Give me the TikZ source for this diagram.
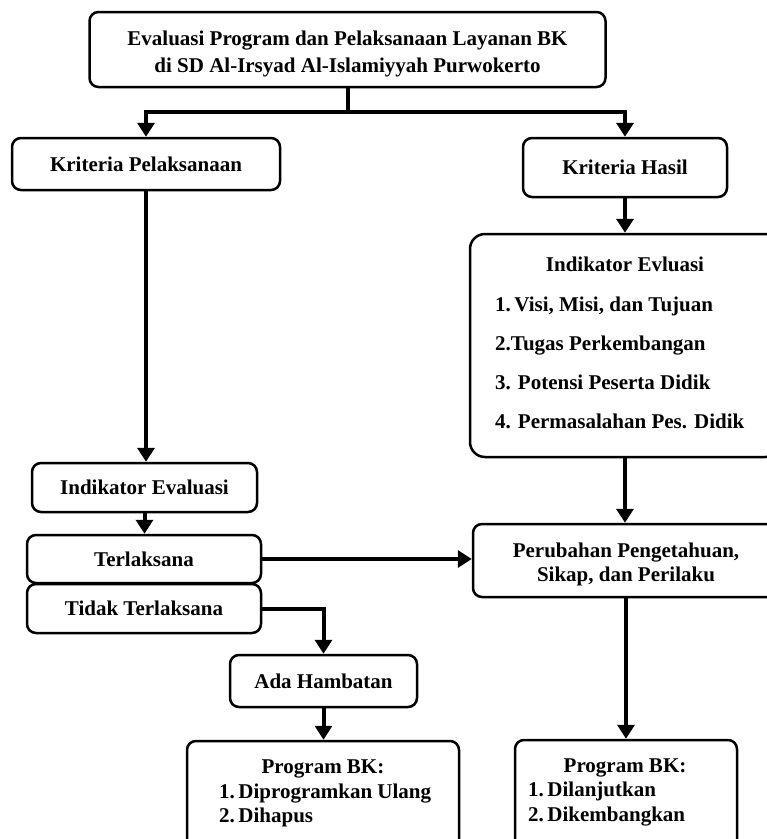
\documentclass[tikz,border=0pt]{standalone}
\usepackage{fontspec}
\setmainfont{Liberation Serif}
\usetikzlibrary{arrows.meta}
\begin{document}
\begin{tikzpicture}[x=1pt,y=-1pt,
  box/.style={draw, line width=2.5pt, rounded corners=9pt, inner sep=0pt, align=center,
    font=\fontsize{21}{25}\selectfont\bfseries},
  conn/.style={line width=4pt, -{Triangle[width=17pt,length=14pt]}},
  link/.style={line width=4pt},
  txt/.style={inner sep=0pt, font=\fontsize{21}{25}\selectfont\bfseries}]
\useasboundingbox (0,0) rectangle (767,839);
\clip (0,0) rectangle (767,839);

% boxes
\node[box, minimum width=516pt, minimum height=75pt] (top) at (347.5,49.5) {};
\node[txt, align=center, font=\fontsize{21}{27}\selectfont\bfseries] (topt) at (347.5,54)
  {Evaluasi Program dan Pelaksanaan Layanan BK\\di SD Al-Irsyad Al-Islamiyyah Purwokerto};
\node[box, minimum width=268pt, minimum height=52pt] (kp) at (146,164) {Kriteria Pelaksanaan};
\node[box, minimum width=204pt, minimum height=59pt] (kh) at (625,167.5) {Kriteria Hasil};
\node[box, rounded corners=15pt, minimum width=310pt, minimum height=223pt] (indr) at (625,345.5) {};
\node[box, minimum width=225pt, minimum height=49pt] (ie) at (144.5,487.5) {Indikator Evaluasi};
\node[box, minimum width=234pt, minimum height=48pt] (ter) at (144,559) {Terlaksana};
\node[box, minimum width=234pt, minimum height=49pt] (tid) at (144,608.5) {Tidak Terlaksana};
\node[box, minimum width=306pt, minimum height=73pt] (per) at (626,560.5) {};
\node[txt, align=center, font=\fontsize{21}{24}\selectfont\bfseries] (pert) at (626,564)
  {Perubahan Pengetahuan,\\Sikap, dan Perilaku};
\node[box, minimum width=187pt, minimum height=52pt] (ah) at (323.5,681) {Ada Hambatan};
\node[box, minimum width=272pt, minimum height=119pt] (pl) at (323,800.5) {};
\node[box, minimum width=222pt, minimum height=120pt] (pr) at (626,800) {};

% texts inside the list boxes
\node[txt, anchor=base] (indt) at (625,271) {Indikator Evluasi};
\node[txt, anchor=base west] (ind1) at (495,311) {1.\,Visi, Misi, dan Tujuan};
\node[txt, anchor=base west] (ind2) at (495,350) {2.Tugas Perkembangan};
\node[txt, anchor=base west] (ind3) at (495,389) {3. Potensi Peserta Didik};
\node[txt, anchor=base west] (ind4) at (495,428) {4. Permasalahan Pes. Didik};

\node[txt, anchor=base] (plt) at (323,773) {Program BK:};
\node[txt, anchor=base west] (pl1) at (219,798) {1.\,Diprogramkan Ulang};
\node[txt, anchor=base west] (pl2) at (219,822) {2.\,Dihapus};

\node[txt, anchor=base] (prt) at (625,772) {Program BK:};
\node[txt, anchor=base west] (pr1) at (528,796) {1.\,Dilanjutkan};
\node[txt, anchor=base west] (pr2) at (528,821) {2.\,Dikembangkan};

% connectors
\coordinate (j) at (347.5,112);
\draw[link, line cap=rect] (top.south) -- (j);
\draw[conn] (j) -| (kp.north);
\draw[conn] (j) -| (kh.north);
\draw[conn] (kp.south) -- (kp.south |- ie.north);
\draw[conn] (ie.south) -- (ie.south |- ter.north);
\draw[conn] (kh.south) -- (kh.south |- indr.north);
\draw[conn] (indr.south) -- (indr.south |- per.north);
\draw[conn] (ter.east) -- (ter.east -| per.west);
\draw[conn] (tid.east) -| (ah.north);
\draw[conn] (ah.south) -- (ah.south |- pl.north);
\draw[conn] (per.south) -- (per.south |- pr.north);
\end{tikzpicture}
\end{document}
